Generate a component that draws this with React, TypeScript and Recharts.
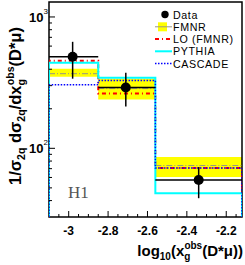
import React from 'react';
import {
  ComposedChart,
  Line,
  Scatter,
  XAxis,
  YAxis,
  ReferenceArea,
  ReferenceLine,
} from 'recharts';

// bin edges in log10(x_g^obs)
const binEdges = [-3.1, -2.85, -2.56, -2.12];

// H1 data points
const dataX = [-2.98, -2.71, -2.34];
const dataY = [498, 290, 57.4];
const dataErrLo = [339, 208, 41.7];
const dataErrHi = [647, 376, 72];

// predictions per bin
const fmnr = [370, 285, 74];
const fmnrLo = [351, 235, 60.6];
const fmnrHi = [404, 339, 85.9];
const loFmnr = [464, 261, 70.7];
const pythia = [448, 345, 45.4];
const cascade = [305, 328, 70.7];

const xMajorTicks = [-3, -2.8, -2.6, -2.4, -2.2];
const xMinorTicks = [-3.05, -2.95, -2.9, -2.85, -2.75, -2.7, -2.65, -2.55, -2.5, -2.45, -2.35, -2.3, -2.25, -2.15];
const yMajorTicks = [100, 1000];
const yMinorTicks = [40, 50, 60, 70, 80, 90, 200, 300, 400, 500, 600, 700, 800, 900];

const legendLabels = ['Data', 'FMNR', 'LO (FMNR)', 'PYTHIA', 'CASCADE'];

const xDomain: [number, number] = [-3.1, -2.12];
const yDomain: [number, number] = [30, 1300];

const font = '"Liberation Sans", Arial, sans-serif';

// histogram outline, dropping to the floor at both ends
const stepPoints = (vals: number[]) => {
  const pts = [{ x: binEdges[0], y: yDomain[0] }];
  vals.forEach((v, i) => {
    pts.push({ x: binEdges[i], y: v });
    pts.push({ x: binEdges[i + 1], y: v });
  });
  pts.push({ x: binEdges[binEdges.length - 1], y: yDomain[0] });
  return pts;
};

const points = dataX.map((x, i) => ({ x, y: dataY[i] }));

const XTick = (props: any) => {
  const { x, y, payload } = props;
  const major = xMajorTicks.includes(payload.value);
  return (
    <g>
      <line x1={x} x2={x} y1={y} y2={y - (major ? 6 : 3)} stroke="#000" />
      {major && (
        <text x={x} y={y + 18} textAnchor="middle" fontFamily={font} fontWeight="bold" fontSize={12}>
          {payload.value}
        </text>
      )}
    </g>
  );
};

const YTick = (props: any) => {
  const { x, y, payload } = props;
  const major = yMajorTicks.includes(payload.value);
  return (
    <g>
      <line x1={x} x2={x + (major ? 6 : 3)} y1={y} y2={y} stroke="#000" />
      {major && (
        <text x={x - 20} y={y + 5} fontFamily={font} fontWeight="bold" fontSize={13}>
          10
          <tspan fontSize={8} fontWeight="normal" dy={-8}>
            {Math.round(Math.log10(payload.value))}
          </tspan>
        </text>
      )}
    </g>
  );
};

const Dot = (props: any) => <circle cx={props.cx} cy={props.cy} r={5} fill="#000" />;

export default function App() {
  const legendY = [14.5, 26.8, 39, 51.3, 63.6];
  return (
    <div style={{ position: 'absolute', left: 0, top: 0, width: 245, height: 265, background: '#fff' }}>
      <ComposedChart width={245} height={265} margin={{ top: 2, right: 3, bottom: 0, left: 0 }}>
        <XAxis
          type="number"
          dataKey="x"
          domain={xDomain}
          allowDataOverflow
          ticks={[...xMajorTicks, ...xMinorTicks].sort((a, b) => a - b)}
          interval={0}
          tick={<XTick />}
          tickLine={false}
          tickSize={0}
          tickMargin={0}
          axisLine={false}
          height={48}
        />
        <YAxis
          type="number"
          dataKey="y"
          scale="log"
          domain={yDomain}
          allowDataOverflow
          ticks={[...yMinorTicks, ...yMajorTicks].sort((a, b) => a - b)}
          interval={0}
          tick={<YTick />}
          tickLine={false}
          tickSize={0}
          tickMargin={0}
          axisLine={false}
          width={49}
        />
        {binEdges.slice(0, -1).map((e, i) => (
          <ReferenceArea
            key={'band' + i}
            x1={e}
            x2={binEdges[i + 1]}
            y1={fmnrLo[i]}
            y2={fmnrHi[i]}
            fill="#ffff00"
            fillOpacity={1}
            stroke="none"
          />
        ))}
        {binEdges.slice(0, -1).map((e, i) => (
          <ReferenceLine
            key={'fmnr' + i}
            segment={[{ x: e, y: fmnr[i] }, { x: binEdges[i + 1], y: fmnr[i] }]}
            stroke="#999980"
            strokeWidth={1}
            strokeDasharray="6 2 1 2"
          />
        ))}
        <Line data={stepPoints(loFmnr)} dataKey="y" stroke="#ff0000" strokeWidth={2} strokeDasharray="4 3 1 3" dot={false} isAnimationActive={false} />
        <Line data={stepPoints(pythia)} dataKey="y" stroke="#00ffff" strokeWidth={2} dot={false} isAnimationActive={false} />
        <Line data={stepPoints(cascade)} dataKey="y" stroke="#0000ff" strokeWidth={1.5} strokeDasharray="1.5 1.5" dot={false} isAnimationActive={false} />
        {dataX.map((x, i) => (
          <ReferenceLine
            key={'dh' + i}
            segment={[{ x: binEdges[i], y: dataY[i] }, { x: binEdges[i + 1], y: dataY[i] }]}
            stroke="#000"
            strokeWidth={1.5}
          />
        ))}
        {dataX.map((x, i) => (
          <ReferenceLine
            key={'dv' + i}
            segment={[{ x, y: dataErrLo[i] }, { x, y: dataErrHi[i] }]}
            stroke="#000"
            strokeWidth={1.5}
          />
        ))}
        <Scatter data={points} fill="#000" shape={<Dot />} isAnimationActive={false} />
        <ReferenceArea x1={xDomain[0]} x2={xDomain[1]} y1={yDomain[0]} y2={yDomain[1]} fill="none" stroke="#000" strokeWidth={1.5} />
      </ComposedChart>
      <svg width={245} height={265} style={{ position: 'absolute', left: 0, top: 0, pointerEvents: 'none' }}>
        <text transform="translate(21,106) rotate(-90)" textAnchor="middle" fontFamily={font} fontWeight="bold" fontSize={16.5}>
          1/σ<tspan fontSize={10.5} dy={4}>2q</tspan>
          <tspan dy={-4}> dσ</tspan>
          <tspan fontSize={10.5} dy={4}>2q</tspan>
          <tspan dy={-4}>/dx</tspan>
          <tspan fontSize={10.5} dy={4}>g</tspan>
          <tspan fontSize={10.5} dy={-11} dx={-6}>obs</tspan>
          <tspan dy={7}>(D*μ)</tspan>
        </text>
        <text x={243} y={256} textAnchor="end" fontFamily={font} fontWeight="bold" fontSize={15}>
          log<tspan fontSize={10} dy={4}>10</tspan>
          <tspan dy={-4}>(x</tspan>
          <tspan fontSize={10} dy={4}>g</tspan>
          <tspan fontSize={10} dy={-11} dx={-6}>obs</tspan>
          <tspan dy={7}>(D*μ))</tspan>
        </text>
        <text x={68} y={198} fontFamily='"Liberation Serif", serif' fontSize={17} fill="#555">
          H1
        </text>
        <circle cx={165} cy={legendY[0]} r={3.7} fill="#000" />
        <rect x={158} y={legendY[1] - 4.5} width={9} height={9} fill="#ffff00" />
        <line x1={155} x2={172} y1={legendY[1]} y2={legendY[1]} stroke="#999980" strokeWidth={1} />
        <line x1={155} x2={171} y1={legendY[2]} y2={legendY[2]} stroke="#ff0000" strokeWidth={2} strokeDasharray="4 3 1 3" />
        <line x1={155} x2={172} y1={legendY[3]} y2={legendY[3]} stroke="#00ffff" strokeWidth={2} />
        <line x1={155} x2={172} y1={legendY[4]} y2={legendY[4]} stroke="#0000ff" strokeWidth={1.5} strokeDasharray="1.5 1.5" />
        {legendLabels.map((l, i) => (
          <text key={l} x={173} y={legendY[i] + 4} fontFamily={font} fontSize={10.7} letterSpacing={0.6}>
            {l}
          </text>
        ))}
      </svg>
    </div>
  );
}
